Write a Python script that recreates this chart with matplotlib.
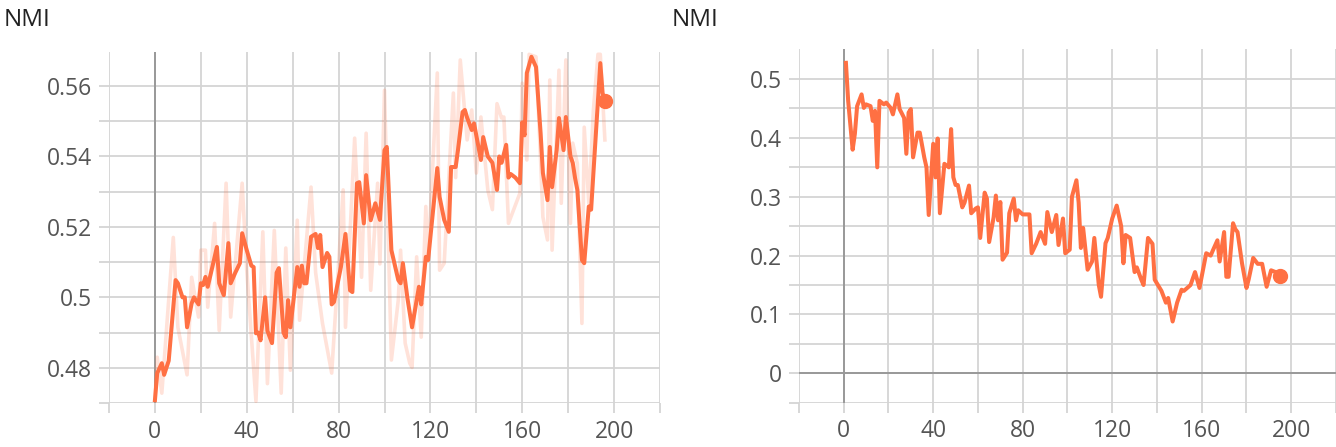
import matplotlib
matplotlib.use('Agg')
import matplotlib.pyplot as plt
import numpy as np

# NMI per step, left run: smoothed curve and the pale raw curve behind it
left_steps = [0, 1, 3, 4, 6, 9, 10, 12, 13, 14, 16, 17, 19, 20, 21, 22, 23, 25, 27, 28,
              30, 32, 33, 35, 37, 38, 40, 42, 43, 44, 45, 46, 48, 49, 51, 53, 54, 56, 57, 58,
              59, 62, 63, 64, 65, 66, 68, 70, 71, 72, 73, 75, 76, 77, 78, 81, 83, 85, 86, 88,
              89, 91, 92, 94, 96, 98, 100, 101, 103, 106, 107, 108, 110, 112, 115, 116, 118, 119, 123, 124,
              126, 128, 129, 131, 132, 134, 135, 136, 138, 139, 142, 143, 145, 147, 149, 150, 151, 153, 154, 155,
              157, 159, 160, 161, 162, 164, 166, 168, 169, 171, 172, 173, 175, 176, 178, 179, 181, 182, 183, 184,
              186, 187, 189, 190, 194, 195, 196]
left_nmi = [0.4708, 0.4785, 0.4813, 0.478, 0.482, 0.5049, 0.504, 0.500, 0.500, 0.4915,
            0.4983, 0.500, 0.498, 0.504, 0.5035, 0.5058, 0.503, 0.5086, 0.5143, 0.504,
            0.5006, 0.5154, 0.504, 0.507, 0.5097, 0.5182, 0.5134, 0.509, 0.5086, 0.4898,
            0.490, 0.4878, 0.500, 0.4905, 0.487, 0.507, 0.5083, 0.490, 0.4887, 0.4992,
            0.4915, 0.5086, 0.503, 0.509, 0.504, 0.504, 0.5172, 0.518, 0.514, 0.5177,
            0.5086, 0.5126, 0.5115, 0.498, 0.4987, 0.5086, 0.518, 0.502, 0.5015, 0.5324,
            0.5327, 0.521, 0.5347, 0.5219, 0.5267, 0.522, 0.5418, 0.5427, 0.5134, 0.5049,
            0.504, 0.5097, 0.4997, 0.4915, 0.503, 0.498, 0.5115, 0.5106, 0.5367, 0.5285,
            0.522, 0.5186, 0.537, 0.537, 0.5418, 0.5526, 0.5532, 0.551, 0.5475, 0.5494,
            0.539, 0.5455, 0.540, 0.5382, 0.5305, 0.540, 0.5382, 0.5433, 0.534, 0.535,
            0.534, 0.5324, 0.5497, 0.546, 0.5637, 0.5683, 0.5654, 0.5466, 0.5353, 0.5276,
            0.5427, 0.5313, 0.5418, 0.5509, 0.5418, 0.5512, 0.540, 0.5382, 0.5339, 0.5305,
            0.5106, 0.5097, 0.5258, 0.5249, 0.5665, 0.558, 0.5557]

left_raw_steps = [0, 1, 3, 8, 10, 14, 16, 19, 20, 22, 23, 26, 28, 31, 33, 38, 40, 44, 47, 49,
                  52, 55, 57, 59, 62, 63, 68, 70, 73, 77, 82, 83, 87, 90, 92, 94, 97, 98, 100, 103,
                  106, 107, 109, 111, 112, 114, 116, 118, 119, 123, 124, 126, 130, 131, 133, 136, 138, 140, 142, 145,
                  147, 149, 151, 152, 154, 159, 160, 162, 163, 166, 168, 169, 171, 172, 173, 176, 177, 179, 181, 182,
                  184, 186, 187, 189, 191, 193, 194, 196]
left_raw_nmi = [0.4708, 0.483, 0.4728, 0.517, 0.4915, 0.478, 0.5057, 0.4944, 0.5134, 0.5134,
                0.4972, 0.521, 0.4906, 0.5324, 0.4944, 0.5324, 0.5077, 0.4705, 0.5186, 0.4755,
                0.519, 0.4728, 0.514, 0.4793, 0.5219, 0.4935, 0.5313, 0.507, 0.4926, 0.4785,
                0.5305, 0.4915, 0.5452, 0.5057, 0.5466, 0.502, 0.5324, 0.5095, 0.5588, 0.4822,
                0.4992, 0.5134, 0.487, 0.4813, 0.4801, 0.5115, 0.4887, 0.5258, 0.5106, 0.5637,
                0.5077, 0.5097, 0.558, 0.534, 0.5674, 0.5447, 0.5532, 0.5353, 0.5512, 0.5305,
                0.5249, 0.555, 0.5509, 0.5512, 0.521, 0.5296, 0.5608, 0.539, 0.569, 0.5683,
                0.539, 0.5228, 0.5163, 0.5617, 0.5134, 0.5645, 0.5267, 0.5674, 0.521, 0.5438,
                0.538, 0.4926, 0.5483, 0.5267, 0.5532, 0.569, 0.569, 0.5447]

# right run
right_steps = [1, 2, 4, 5, 6, 8, 9, 10, 12, 13, 14, 15, 16, 18, 19, 21, 22, 24, 25, 27,
               28, 29, 30, 31, 33, 34, 36, 37, 38, 40, 41, 42, 43, 45, 47, 48, 49, 50, 51, 53,
               54, 56, 57, 59, 60, 61, 63, 64, 65, 67, 68, 69, 70, 71, 73, 74, 76, 77, 78, 80,
               83, 84, 86, 88, 90, 91, 93, 95, 96, 98, 99, 101, 102, 104, 105, 106, 107, 109, 111, 112,
               114, 115, 117, 118, 120, 122, 124, 125, 126, 128, 130, 131, 133, 134, 136, 138, 139, 142, 144, 145,
               147, 149, 151, 152, 155, 157, 159, 160, 162, 164, 165, 167, 168, 170, 171, 172, 174, 175, 176, 178,
               180, 181, 183, 185, 187, 189, 191, 193, 195]
right_nmi = [0.5276, 0.463, 0.380, 0.407, 0.454, 0.474, 0.451, 0.457, 0.454, 0.429,
             0.446, 0.350, 0.463, 0.457, 0.46, 0.451, 0.44, 0.474, 0.449, 0.434,
             0.373, 0.443, 0.449, 0.367, 0.409, 0.409, 0.367, 0.350, 0.269, 0.390,
             0.333, 0.399, 0.272, 0.356, 0.35, 0.415, 0.333, 0.32, 0.32, 0.282,
             0.29, 0.319, 0.272, 0.28, 0.282, 0.230, 0.307, 0.297, 0.223, 0.265,
             0.302, 0.26, 0.291, 0.193, 0.205, 0.272, 0.297, 0.260, 0.277, 0.27,
             0.27, 0.204, 0.22, 0.240, 0.22, 0.274, 0.24, 0.269, 0.218, 0.263,
             0.204, 0.21, 0.30, 0.328, 0.29, 0.213, 0.247, 0.176, 0.19, 0.230,
             0.150, 0.130, 0.221, 0.23, 0.263, 0.285, 0.25, 0.187, 0.235, 0.23,
             0.172, 0.18, 0.159, 0.15, 0.230, 0.22, 0.159, 0.14, 0.120, 0.128,
             0.088, 0.12, 0.142, 0.14, 0.150, 0.172, 0.145, 0.165, 0.204, 0.2,
             0.209, 0.226, 0.19, 0.240, 0.164, 0.164, 0.255, 0.245, 0.24, 0.187,
             0.145, 0.16, 0.196, 0.186, 0.186, 0.147, 0.175, 0.172, 0.165]

x_ticks = list(range(-20, 221, 20))
x_labels = ['', '0', '', '40', '', '80', '', '120', '', '160', '', '200', '']
left_yticks = [0.47, 0.48, 0.49, 0.50, 0.51, 0.52, 0.53, 0.54, 0.55, 0.56]
left_ylabels = ['', '0.48', '', '0.5', '', '0.52', '', '0.54', '', '0.56']
right_yticks = [-0.05, 0, 0.05, 0.1, 0.15, 0.2, 0.25, 0.3, 0.35, 0.4, 0.45, 0.5]
right_ylabels = ['', '0', '', '0.1', '', '0.2', '', '0.3', '', '0.4', '', '0.5']

orange = '#ff7043'
grid_c = '#d4d4d4'
axis_c = '#999999'

plt.rcParams['font.family'] = ['Open Sans', 'DejaVu Sans']

fig = plt.figure(figsize=(13.36, 4.47), dpi=100)
ax1 = fig.add_axes([0.0816, 0.0984, 0.4124, 0.7856])
ax2 = fig.add_axes([0.598, 0.0991, 0.402, 0.7906])


def style(ax, yticks, ylabels, ylim):
    ax.set_xlim(-20, 220)
    ax.set_ylim(*ylim)
    ax.set_xticks(x_ticks)
    ax.set_xticklabels(x_labels)
    ax.set_yticks(yticks)
    ax.set_yticklabels(ylabels)
    ax.grid(True, color=grid_c, lw=1.3)
    ax.set_axisbelow(True)
    for s in ax.spines.values():
        s.set_visible(False)
    ax.tick_params(length=7, width=1.3, color=grid_c, labelcolor='#555555',
                   labelsize=16.5, pad=5)
    ax.axvline(0, color=axis_c, lw=1.4, zorder=1.5)


style(ax1, left_yticks, left_ylabels, (0.47, 0.5697))
ax1.plot(left_raw_steps, left_raw_nmi, color=orange, alpha=0.2, lw=2.6, zorder=2)
ax1.plot(left_steps, left_nmi, color=orange, lw=2.9, zorder=3)
ax1.plot(left_steps[-1], left_nmi[-1], 'o', color=orange, ms=10, zorder=4)

style(ax2, right_yticks, right_ylabels, (-0.05, 0.5506))
ax2.axhline(0, color=axis_c, lw=1.4, zorder=1.5)
ax2.plot(right_steps, right_nmi, color=orange, lw=2.9, zorder=3)
ax2.plot(right_steps[-1], right_nmi[-1], 'o', color=orange, ms=10, zorder=4)

fig.text(4 / 1336, 1 - 26 / 447, 'NMI', fontsize=17.5, color='#222222', va='baseline')
fig.text(672 / 1336, 1 - 26 / 447, 'NMI', fontsize=17.5, color='#222222', va='baseline')

fig.savefig('out.png', dpi=100)
